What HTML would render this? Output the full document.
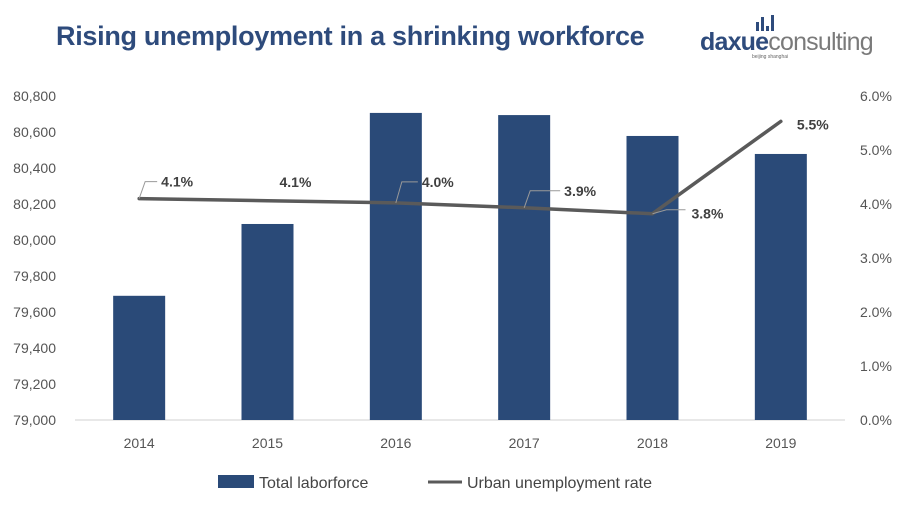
<!DOCTYPE html>
<html><head><meta charset="utf-8">
<style>
body{margin:0;background:#fff;font-family:"Liberation Sans",Arial,sans-serif;}
svg{display:block}
</style></head>
<body>
<svg id="chart" width="902" height="510" xmlns="http://www.w3.org/2000/svg">
<text x="56" y="45" font-size="27" font-weight="bold" fill="#2e4b7c" letter-spacing="-0.3">Rising unemployment in a shrinking workforce</text>
<g>
<rect x="756" y="22" width="3" height="9" fill="#2e4b7c"/>
<rect x="761" y="17" width="3" height="14" fill="#2e4b7c"/>
<rect x="766" y="26" width="3" height="5" fill="#2e4b7c"/>
<rect x="771" y="15" width="3" height="16" fill="#2e4b7c"/>
<text x="700" y="50" font-size="25" font-weight="bold" fill="#2e4b7c" letter-spacing="-0.8">daxue<tspan fill="#7a7a7a" font-weight="normal">consulting</tspan></text>
<text x="752" y="58" font-size="5" fill="#666">beijing shanghai</text>
</g>
<g id="axes"></g>
<g id="bars"></g>
<g id="line"></g>
<g>
<rect x="218" y="475" width="36" height="13" fill="#2a4a78"/>
<text x="259" y="488" font-size="16" fill="#444">Total laborforce</text>
<line x1="428" y1="482" x2="462" y2="482" stroke="#5a5a5a" stroke-width="3"/>
<text x="467" y="488" font-size="16" fill="#444">Urban unemployment rate</text>
</g>
</svg>
<script>
const years=["2014","2015","2016","2017","2018","2019"];
const labor=[79690,80089,80706,80694,80578,80478];
const rate=[4.1,4.06,4.02,3.93,3.82,5.53];
const rateLabels=["4.1%","4.1%","4.0%","3.9%","3.8%","5.5%"];
const leftTicks=[79000,79200,79400,79600,79800,80000,80200,80400,80600,80800];
const rightTicks=[0,1,2,3,4,5,6];
const NS="http://www.w3.org/2000/svg";
const top0=96,bot=420,left=75,right=845;
const yL=v=>bot-(v-79000)/1800*(bot-top0);
const yR=v=>bot-v/6*(bot-top0);
const band=(right-left)/years.length;
const xC=i=>left+band*(i+0.5);
function mk(t,a,p,txt){const e=document.createElementNS(NS,t);for(const k in a)e.setAttribute(k,a[k]);if(txt!==undefined)e.textContent=txt;p.appendChild(e);return e;}
const ax=document.getElementById('axes');
let base=mk('line',{x1:left,x2:right,y1:bot,y2:bot,stroke:'#d0d0d0'},ax);


leftTicks.forEach(v=>{const t=mk('text',{x:56,y:yL(v)+5,'font-size':14,fill:'#555','text-anchor':'end'},ax,v.toLocaleString('en-US'));

});
rightTicks.forEach(v=>{const t=mk('text',{x:860,y:yR(v)+5,'font-size':14,fill:'#555'},ax,v.toFixed(1)+'%');

});
years.forEach((y,i)=>{const t=mk('text',{x:xC(i),y:448,'font-size':14,fill:'#555','text-anchor':'middle'},ax,y);

});
const bg=document.getElementById('bars');
labor.forEach((v,i)=>{const r=mk('rect',{x:xC(i)-26,y:yL(v),width:52,height:bot-yL(v),fill:'#2a4a78'},bg);

});
const lg=document.getElementById('line');
const pl=mk('polyline',{points:rate.map((v,i)=>xC(i)+','+yR(v)).join(' '),fill:'none',stroke:'#5a5a5a','stroke-width':3.5,'stroke-linecap':'round','stroke-linejoin':'round'},lg);


// label layout: [text dx, text dy, callout?]
const lay=[[22,-12,true],[12,-14,false],[26,-16,true],[40,-12,true],[39,5,true],[16,8,false]];
rateLabels.forEach((s,i)=>{const x=xC(i),y=yR(rate[i]);const [dx,dy,c]=lay[i];
if(c){let pts;
 if(i===4) pts=`${x},${y} ${x+14},${y-4} ${x+33},${y-4}`;
 else pts=`${x},${y} ${x+6},${y+dy-5} ${x+dx-4},${y+dy-5}`;
 const cl=mk('polyline',{points:pts,fill:'none',stroke:'#999','stroke-width':1},lg);
 
 }
const t=mk('text',{x:x+dx,y:y+dy,'font-size':14,'font-weight':'bold',fill:'#404040'},lg,s);

});
</script>
</body></html>
